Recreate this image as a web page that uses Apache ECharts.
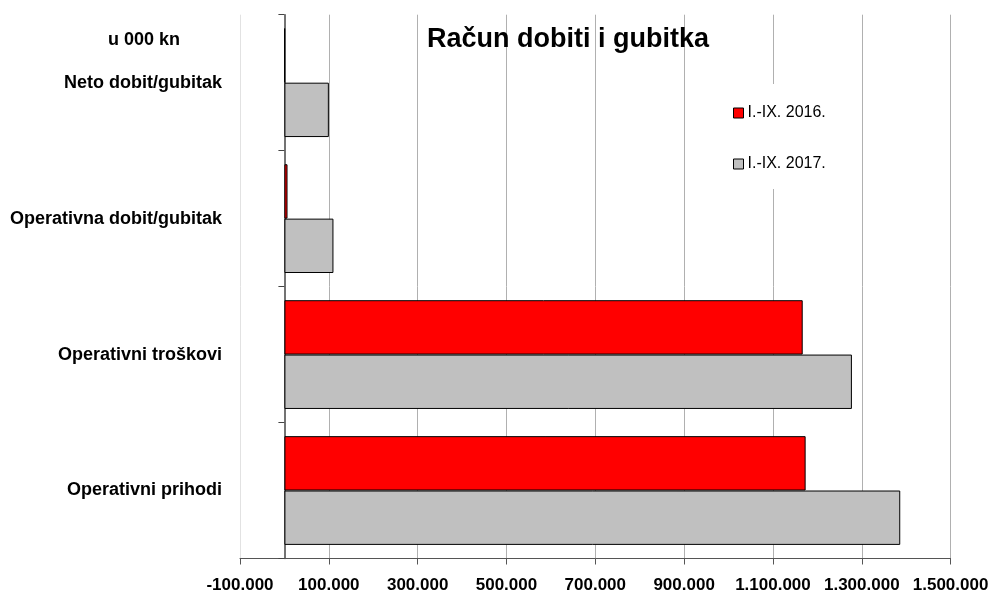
<!DOCTYPE html>
<html>
<head>
<meta charset="utf-8">
<script src="https://cdn.jsdelivr.net/npm/echarts@6/dist/echarts.min.js"></script>
<style>
  html, body { margin: 0; padding: 0; background: #fff; }
  #chart { width: 992px; height: 594px; }
</style>
</head>
<body>
<div id="chart"></div>
<script>
// categories listed bottom to top (category axis runs upwards)
const categories = ['Operativni prihodi', 'Operativni troškovi', 'Operativna dobit/gubitak', 'Neto dobit/gubitak'];
const seriesNames = ['I.-IX. 2016.', 'I.-IX. 2017.'];
const values2016 = [1173600, 1167000, 7000, 1000];
const values2017 = [1386600, 1277800, 110400, 100100];
const axisMin = -100000;
const axisMax = 1500000;
const tickStep = 200000;

const FONT = '"Liberation Sans", Arial, sans-serif';

function fmt(n) {
    const s = String(Math.abs(Math.round(n))).replace(/\B(?=(\d{3})+(?!\d))/g, '.');
    return (n < 0 ? '-' : '') + s;
}

let chart = echarts.init(document.getElementById('chart'), null, { renderer: 'canvas' });

let option = {
    backgroundColor: '#fff',
    animation: false,
    title: {
        text: 'Račun dobiti i gubitka',
        left: 422,
        top: 21,
        textStyle: { fontFamily: FONT, fontSize: 27, fontWeight: 'bold', color: '#000' }
    },
    graphic: [{
        type: 'text',
        left: 108,
        top: 31,
        style: { text: 'u 000 kn', font: 'bold 18px ' + FONT, fill: '#000' }
    }],
    legend: {
        orient: 'vertical',
        left: 720,
        top: 84,
        padding: [21, 14, 17, 13],
        backgroundColor: '#fff',
        itemWidth: 10,
        itemHeight: 10,
        itemGap: 35,
        icon: 'rect',
        itemStyle: { borderColor: '#000', borderWidth: 1 },
        textStyle: { fontFamily: FONT, fontSize: 16, color: '#000', lineHeight: 16, padding: [0, 0, 0, -1] },
        data: seriesNames
    },
    grid: { left: 240, right: 41.4, top: 14.7, bottom: 35.5, outerBoundsMode: 'none', containLabel: false },
    xAxis: [{
        // data axis, real values
        type: 'value',
        position: 'top',
        min: axisMin,
        max: axisMax,
        axisLine: { show: false },
        axisTick: { show: false },
        axisLabel: { show: false },
        splitLine: { show: false }
    }, {
        // display axis, shifted so ticks fall on -100.000, 100.000, ...
        type: 'value',
        position: 'bottom',
        min: 0,
        max: axisMax - axisMin,
        interval: tickStep,
        axisLine: { show: true, onZero: false, lineStyle: { color: '#555', width: 1 } },
        axisTick: { show: true, length: 6, lineStyle: { color: '#555' } },
        axisLabel: {
            margin: 18,
            fontFamily: FONT, fontSize: 17, fontWeight: 'bold', color: '#000',
            formatter: v => fmt(v + axisMin)
        },
        splitLine: {
            show: true,
            lineStyle: { color: ['#e2e2e2', '#b0b0b0', '#b0b0b0', '#b0b0b0', '#b0b0b0', '#b0b0b0', '#b0b0b0', '#b0b0b0', '#b0b0b0'], width: 1 }
        }
    }],
    yAxis: {
        type: 'category',
        data: categories,
        axisLine: { show: true, onZero: true, onZeroAxisIndex: 0, lineStyle: { color: '#444', width: 1.5 } },
        axisTick: { show: true, length: 6, lineStyle: { color: '#444' } },
        axisLabel: { margin: 18, fontFamily: FONT, fontSize: 18, fontWeight: 'bold', color: '#000' },
        splitLine: { show: false }
    },
    series: [{
        name: seriesNames[0],
        type: 'bar',
        xAxisIndex: 0,
        data: values2016,
        barGap: '0%',
        barCategoryGap: '20%',
        itemStyle: { color: '#ff0000', borderColor: '#000', borderWidth: 1 }
    }, {
        name: seriesNames[1],
        type: 'bar',
        xAxisIndex: 0,
        data: values2017,
        barGap: '0%',
        barCategoryGap: '20%',
        itemStyle: { color: '#c0c0c0', borderColor: '#000', borderWidth: 1 }
    }]
};

chart.setOption(option);
</script>
</body>
</html>
